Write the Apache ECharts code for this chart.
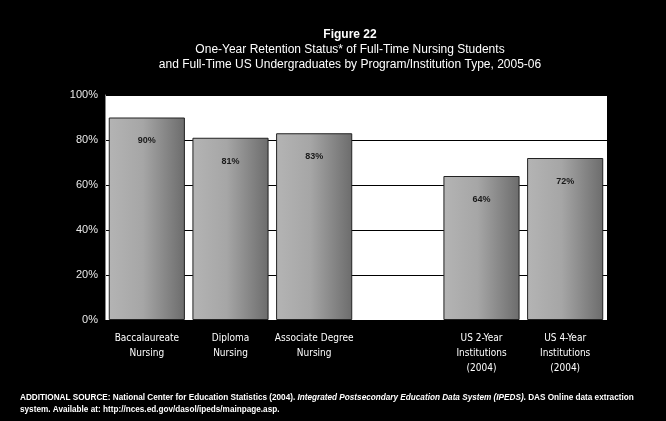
<!DOCTYPE html>
<html>
<head>
<meta charset="utf-8">
<script src="https://cdn.jsdelivr.net/npm/echarts@6/dist/echarts.min.js"></script>
<style>
  html, body { margin: 0; padding: 0; background: #000; }
  #chart { width: 666px; height: 421px; }
</style>
</head>
<body>
<div id="chart"></div>
<script>
// Program / institution types (blank slot separates nursing programs from US totals)
const categories = [
  'Baccalaureate\nNursing',
  'Diploma\nNursing',
  'Associate Degree\nNursing',
  '',
  'US 2-Year\nInstitutions\n(2004)',
  'US 4-Year\nInstitutions\n(2004)'
];
// One-year retention, percent
const retention = [90, 81, 83, null, 64, 72];
const yTicks = [0, 20, 40, 60, 80, 100];

const titleLines = [
  'Figure 22',
  'One-Year Retention Status* of Full-Time Nursing Students',
  'and Full-Time US Undergraduates by Program/Institution Type, 2005-06'
];

const chart = echarts.init(document.getElementById('chart'), null, { renderer: 'canvas' });

const barFill = new echarts.graphic.LinearGradient(0, 0, 1, 0, [
  { offset: 0, color: '#b4b4b4' },
  { offset: 0.45, color: '#a6a6a6' },
  { offset: 1, color: '#6c6c6c' }
]);

chart.setOption({
  backgroundColor: '#000',
  animation: false,
  title: {
    left: 345,
    top: 22,
    textAlign: 'center',
    text: '{b|' + titleLines[0] + '}\n{n|' + titleLines[1] + '}\n{n|' + titleLines[2] + '}',
    textStyle: {
      fontWeight: 'normal',
      rich: {
        b: { fontFamily: 'Liberation Sans, Arial', fontSize: 12, fontWeight: 'bold', color: '#fff', lineHeight: 15, align: 'center' },
        n: { fontFamily: 'Liberation Sans, Arial', fontSize: 12, fontWeight: 'normal', color: '#fff', lineHeight: 15, align: 'center' }
      }
    }
  },
  grid: {
    left: 105, right: 59, top: 95, bottom: 101,
    show: true, backgroundColor: '#fff', borderWidth: 0
  },
  xAxis: {
    type: 'category',
    data: categories,
    axisLine: { show: true, lineStyle: { color: '#000' } },
    axisTick: { show: false },
    axisLabel: {
      color: '#fff',
      fontFamily: 'DejaVu Sans Condensed, Liberation Sans Narrow, Arial Narrow',
      fontSize: 10,
      lineHeight: 15,
      margin: 11,
      interval: 0
    }
  },
  yAxis: {
    type: 'value',
    min: yTicks[0],
    max: yTicks[yTicks.length - 1],
    interval: 20,
    axisLine: { show: true, lineStyle: { color: '#888', width: 1 } },
    axisTick: { show: false },
    splitLine: { show: true, lineStyle: { color: '#000', width: 1 } },
    axisLabel: {
      color: '#e8e8e8',
      fontFamily: 'Liberation Sans, Arial',
      fontSize: 11,
      margin: 7,
      formatter: v => v + '%'
    }
  },
  series: [{
    type: 'bar',
    data: retention,
    barCategoryGap: '9%',
    itemStyle: { color: barFill, borderColor: '#222', borderWidth: 1 },
    label: {
      show: true,
      position: 'insideTop',
      distance: 19,
      color: '#1a1a1a',
      fontFamily: 'Liberation Sans, Arial',
      fontSize: 9,
      fontWeight: 'bold',
      formatter: p => p.value + '%'
    }
  }],
  graphic: [{
    type: 'text',
    left: 20,
    top: 394,
    style: {
      text: '{b|ADDITIONAL SOURCE: National Center for Education Statistics (2004). }{i|Integrated Postsecondary Education Data System (IPEDS).}{b| DAS Online data extraction}\n{b|system. Available at: http://nces.ed.gov/dasol/ipeds/mainpage.asp.}',
      rich: {
        b: { fontFamily: 'Liberation Sans, Arial', fontSize: 8.2, fontWeight: 'bold', fill: '#fff', lineHeight: 12 },
        i: { fontFamily: 'Liberation Sans, Arial', fontSize: 8.2, fontWeight: 'bold', fontStyle: 'italic', fill: '#fff', lineHeight: 12 }
      }
    }
  }]
});
</script>
</body>
</html>
